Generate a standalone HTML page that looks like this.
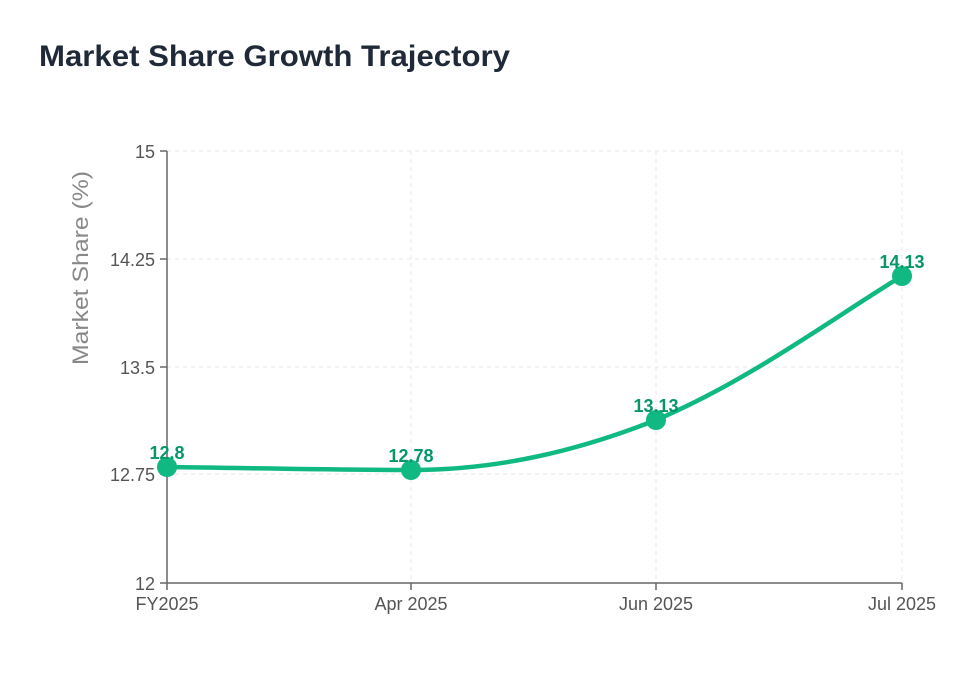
<!DOCTYPE html>
<html><head><meta charset="utf-8"><style>
body{margin:0;background:#fff;width:971px;height:684px;overflow:hidden}
</style></head><body>
<svg width="971" height="684" xmlns="http://www.w3.org/2000/svg" font-family="Liberation Sans, sans-serif">
<text x="39" y="66" font-size="30" font-weight="bold" fill="#1f2937" textLength="471" lengthAdjust="spacingAndGlyphs">Market Share Growth Trajectory</text>
<g stroke="#e5e7eb" stroke-dasharray="4,4" stroke-width="1">
<line x1="167" y1="151" x2="902" y2="151"/><line x1="167" y1="259" x2="902" y2="259"/>
<line x1="167" y1="367" x2="902" y2="367"/><line x1="167" y1="474" x2="902" y2="474"/>
<line x1="411" y1="151" x2="411" y2="582"/><line x1="656" y1="151" x2="656" y2="582"/><line x1="902" y1="151" x2="902" y2="582"/>
</g>
<g stroke="#666" stroke-width="1.5" fill="none">
<line x1="167" y1="151" x2="167" y2="583"/><line x1="167" y1="583" x2="902" y2="583"/>
<line x1="160" y1="151" x2="167" y2="151"/><line x1="160" y1="259" x2="167" y2="259"/><line x1="160" y1="367" x2="167" y2="367"/><line x1="160" y1="474" x2="167" y2="474"/><line x1="160" y1="583" x2="167" y2="583"/>
<line x1="167" y1="583" x2="167" y2="590"/><line x1="411" y1="583" x2="411" y2="590"/><line x1="656" y1="583" x2="656" y2="590"/><line x1="902" y1="583" x2="902" y2="590"/>
</g>
<g font-size="18" fill="#555" text-anchor="end">
<text x="155" y="158">15</text><text x="155" y="266">14.25</text><text x="155" y="374">13.5</text><text x="155" y="481">12.75</text><text x="155" y="590">12</text>
</g>
<g font-size="18" fill="#555" text-anchor="middle">
<text x="167" y="610">FY2025</text><text x="411" y="610">Apr 2025</text><text x="656" y="610">Jun 2025</text><text x="902" y="610">Jul 2025</text>
</g>
<text transform="translate(88,268) rotate(-90)" font-size="22" fill="#888" text-anchor="middle" textLength="194" lengthAdjust="spacingAndGlyphs">Market Share (%)</text>
<path d="M167,467 C250,468 330,470 411,470 C500,470 580,450 656,420 C750,380 830,320 902,276" stroke="#10b981" stroke-width="4.5" fill="none"/>
<g fill="#10b981"><circle cx="167" cy="467" r="10"/><circle cx="411" cy="470" r="10"/><circle cx="656" cy="420" r="10"/><circle cx="902" cy="276" r="10"/></g>
<g font-size="18" font-weight="bold" fill="#059669" text-anchor="middle">
<text x="167" y="459">12.8</text><text x="411" y="462">12.78</text><text x="656" y="412">13.13</text><text x="902" y="268">14.13</text>
</g>
</svg>
</body></html>
